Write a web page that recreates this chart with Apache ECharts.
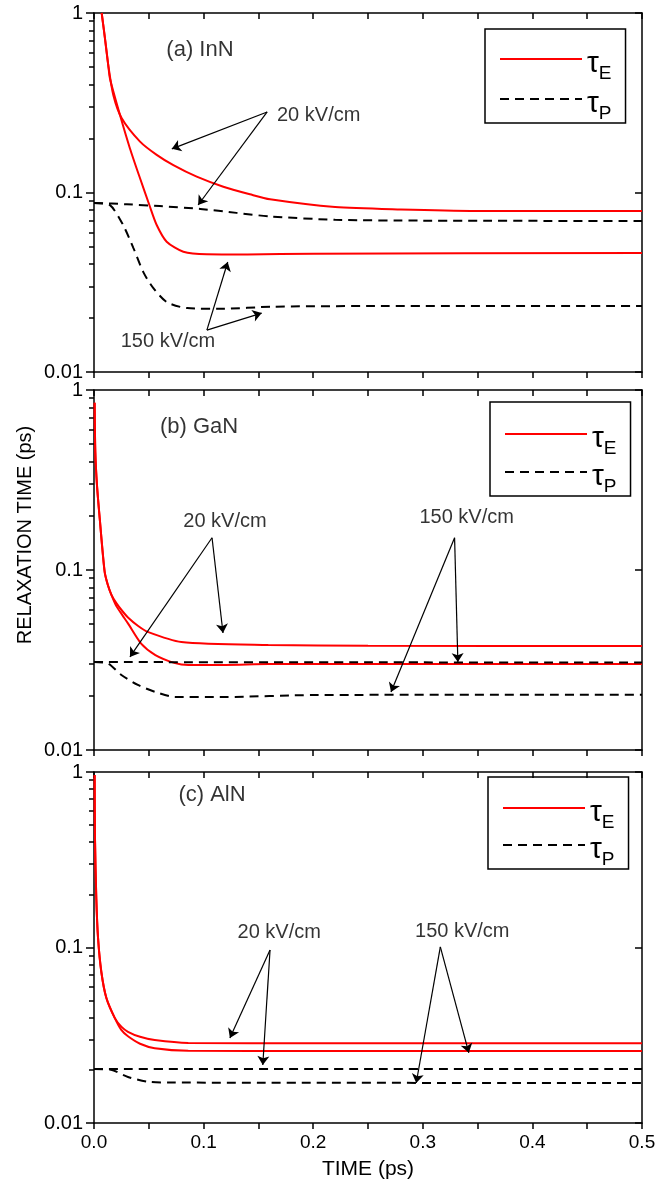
<!DOCTYPE html>
<html>
<head>
<meta charset="utf-8">
<script src="https://cdn.jsdelivr.net/npm/echarts@6/dist/echarts.min.js"></script>
<style>
html,body{margin:0;padding:0;background:#fff;}
#chart{width:669px;height:1182px;}
</style>
</head>
<body>
<div id="chart"></div>
<script>
// ---------------- DATA ----------------
const xTickValues = [0.0, 0.1, 0.2, 0.3, 0.4, 0.5];
const yMajorTicks = [0.01, 0.1, 1];
const yMinorTicks = [0.02,0.03,0.04,0.05,0.06,0.07,0.08,0.09,0.2,0.3,0.4,0.5,0.6,0.7,0.8,0.9];
const panelTitles = ['(a) InN', '(b) GaN', '(c) AlN'];
const legendNames = ['τE', 'τP'];
const xAxisTitle = 'TIME (ps)';
const yAxisTitle = 'RELAXATION TIME (ps)';

// (a) InN  [time (ps), relaxation time (ps)]
const inn_tauE_20 = [[0.007,1.0],[0.010,0.723],[0.013,0.513],[0.0176,0.349],[0.0253,0.259],[0.042,0.192],[0.0572,0.162],[0.0724,0.142],[0.0937,0.1225],[0.118,0.1077],[0.1423,0.0977],[0.1606,0.0916],[0.22,0.083],[0.28,0.0805],[0.35,0.079],[0.5,0.0788]];
const inn_tauE_150 = [[0.007,1.0],[0.010,0.723],[0.013,0.513],[0.0146,0.43],[0.0237,0.270],[0.0328,0.176],[0.042,0.120],[0.0505,0.0852],[0.0572,0.0659],[0.0663,0.0532],[0.0815,0.0468],[0.1028,0.0453],[0.14,0.0452],[0.2,0.0456],[0.5,0.046]];
const inn_tauP_20 = [[0.0,0.0875],[0.03,0.086],[0.06,0.084],[0.097,0.081],[0.13,0.077],[0.161,0.0735],[0.22,0.0705],[0.3,0.0697],[0.5,0.0694]];
const inn_tauP_150 = [[0.0,0.0875],[0.0146,0.085],[0.0265,0.066],[0.036,0.049],[0.045,0.036],[0.054,0.0294],[0.0665,0.0245],[0.085,0.0227],[0.118,0.0225],[0.161,0.0231],[0.25,0.0233],[0.5,0.0233]];

// (b) GaN
const gan_tauE_20 = [[0.0006,0.85],[0.0012,0.454],[0.0027,0.297],[0.0052,0.194],[0.0097,0.0978],[0.0125,0.083],[0.0158,0.073],[0.0204,0.0655],[0.026,0.059],[0.031,0.0545],[0.040,0.049],[0.049,0.0453],[0.0797,0.0398],[0.159,0.0383],[0.25,0.0379],[0.5,0.0378]];
const gan_tauE_150 = [[0.0006,0.85],[0.0012,0.454],[0.0027,0.297],[0.0052,0.194],[0.0097,0.0978],[0.0125,0.083],[0.0158,0.073],[0.0204,0.063],[0.026,0.056],[0.031,0.0505],[0.043,0.0390],[0.056,0.0337],[0.074,0.0304],[0.086,0.0297],[0.12,0.0297],[0.159,0.030],[0.5,0.030]];
const gan_tauP_20 = [[0.0,0.0308],[0.25,0.0307],[0.5,0.0306]];
const gan_tauP_150 = [[0.0,0.0308],[0.013,0.0302],[0.025,0.0261],[0.040,0.0230],[0.056,0.021],[0.074,0.0197],[0.12,0.0197],[0.2,0.0202],[0.5,0.0203]];

// (c) AlN
const aln_tauE_20 = [[0.0006,0.96],[0.0009,0.42],[0.0021,0.191],[0.0037,0.113],[0.0067,0.0725],[0.0113,0.0515],[0.0189,0.0397],[0.0249,0.0354],[0.031,0.0331],[0.042,0.031],[0.0554,0.0297],[0.086,0.0286],[0.2,0.0285],[0.5,0.0285]];
const aln_tauE_150 = [[0.0006,0.96],[0.0009,0.42],[0.0021,0.191],[0.0037,0.113],[0.0067,0.0725],[0.0113,0.0515],[0.0189,0.0397],[0.0249,0.0339],[0.031,0.0312],[0.042,0.0283],[0.0554,0.0267],[0.086,0.0258],[0.2,0.0257],[0.5,0.0257]];
const aln_tauP_20 = [[0.0,0.0203],[0.25,0.0203],[0.5,0.0203]];
const aln_tauP_150 = [[0.0,0.0203],[0.0155,0.0201],[0.031,0.0183],[0.049,0.0172],[0.07,0.0170],[0.5,0.0169]];

// annotation texts, anchored in data coordinates [time, value]
const fieldText20 = '20 kV/cm';
const fieldText150 = '150 kV/cm';
const inn_textAnchors = [[0.205,0.270],[0.0675,0.0147],[0.0967,0.622]];
const gan_textAnchors = [[0.1195,0.185],[0.340,0.197],[0.0958,0.623]];
const aln_textAnchors = [[0.169,0.121],[0.336,0.1226],[0.1077,0.74]];
// arrows: [from, to] in data coordinates
const inn_arrows = [[[0.158,0.281],[0.071,0.175]],[[0.158,0.281],[0.095,0.0852]],[[0.103,0.0171],[0.122,0.041]],[[0.103,0.0171],[0.153,0.0213]]];
const gan_arrows = [[[0.1077,0.151],[0.0328,0.0329]],[[0.1077,0.151],[0.1177,0.0447]],[[0.329,0.151],[0.271,0.0210]],[[0.329,0.151],[0.332,0.0308]]];
const aln_arrows = [[[0.1606,0.0968],[0.124,0.0305]],[[0.1606,0.0968],[0.154,0.0214]],[[0.316,0.1007],[0.294,0.0169]],[[0.316,0.1007],[0.342,0.0251]]];

// ---------------- LAYOUT / STYLE ----------------
const FONT = 'Liberation Sans, Arial, Helvetica, sans-serif';
const RED = '#f00';
const BLACK = '#000';
const grids = [
  {left: 94, right: 27, top: 13, height: 359},
  {left: 94, right: 27, top: 390, height: 360},
  {left: 94, right: 27, top: 772, height: 351}
];
const legendPos = [
  {left: 485, top: 29, gap: 1, padTop: 15},
  {left: 490, top: 402, gap: -1, padTop: 17},
  {left: 488, top: 777, gap: -2, padTop: 16}
];

const panels = [
  {e20: inn_tauE_20, e150: inn_tauE_150, p20: inn_tauP_20, p150: inn_tauP_150, anchors: inn_textAnchors, arrows: inn_arrows},
  {e20: gan_tauE_20, e150: gan_tauE_150, p20: gan_tauP_20, p150: gan_tauP_150, anchors: gan_textAnchors, arrows: gan_arrows},
  {e20: aln_tauE_20, e150: aln_tauE_150, p20: aln_tauP_20, p150: aln_tauP_150, anchors: aln_textAnchors, arrows: aln_arrows}
];

const axisLineStyle = {color: BLACK, width: 1.5};
const tickLine = {color: BLACK, width: 1.5};

const xAxis = [], yAxis = [], series = [], legend = [];

panels.forEach((p, i) => {
  const isLast = i === panels.length - 1;
  const xBase = {
    type: 'value', gridIndex: i, min: 0, max: 0.5, interval: 0.1,
    splitLine: {show: false},
    axisLine: {show: true, onZero: false, lineStyle: axisLineStyle}
  };
  xAxis.push(Object.assign({}, xBase, {
    position: 'bottom',
    axisTick: {show: true, inside: false, length: 6, lineStyle: tickLine},
    minorTick: {show: true, splitNumber: 2, length: 6, lineStyle: tickLine},
    axisLabel: isLast ? {show: true, margin: 10, fontSize: 19, color: BLACK, fontFamily: FONT,
      formatter: v => v.toFixed(1)} : {show: false},
    name: isLast ? xAxisTitle : '',
    nameLocation: 'middle', nameGap: 36,
    nameTextStyle: {fontSize: 21, color: BLACK, fontFamily: FONT}
  }));
  xAxis.push(Object.assign({}, xBase, {
    position: 'top',
    axisTick: {show: true, inside: true, length: 6, lineStyle: tickLine},
    minorTick: {show: true, splitNumber: 2, length: 6, lineStyle: tickLine},
    axisLabel: {show: false}
  }));

  const yBase = {type: 'log', logBase: 10, gridIndex: i, min: 0.01, max: 1, splitLine: {show: false}};
  yAxis.push(Object.assign({}, yBase, {
    position: 'left',
    axisLine: {show: true, onZero: false, lineStyle: axisLineStyle},
    axisTick: {show: true, inside: false, length: 8, lineStyle: tickLine, customValues: yMajorTicks},
    axisLabel: {show: true, margin: 11, fontSize: 20, color: BLACK, fontFamily: FONT,
      customValues: yMajorTicks, formatter: v => String(+v.toPrecision(3))}
  }));
  yAxis.push(Object.assign({}, yBase, {
    position: 'left',
    axisLine: {show: false},
    axisTick: {show: true, inside: false, length: 5, lineStyle: tickLine, customValues: yMinorTicks},
    axisLabel: {show: false}
  }));
  yAxis.push(Object.assign({}, yBase, {
    position: 'right',
    axisLine: {show: true, onZero: false, lineStyle: axisLineStyle},
    axisTick: {show: true, inside: true, length: 7, lineStyle: tickLine, customValues: yMajorTicks},
    axisLabel: {show: false}
  }));
  yAxis.push(Object.assign({}, yBase, {
    position: 'right',
    axisLine: {show: false},
    axisTick: {show: true, inside: true, length: 4, lineStyle: tickLine, customValues: yMinorTicks},
    axisLabel: {show: false}
  }));

  const common = {type: 'line', xAxisIndex: 2 * i, yAxisIndex: 4 * i, symbol: 'none', showSymbol: false,
    smooth: 0.25, animation: false, silent: true, z: 3};
  series.push(Object.assign({}, common, {name: legendNames[0], data: p.e20,
    lineStyle: {color: RED, width: 2}, itemStyle: {color: RED}}));
  series.push(Object.assign({}, common, {name: legendNames[0], data: p.e150,
    lineStyle: {color: RED, width: 2}, itemStyle: {color: RED}}));
  series.push(Object.assign({}, common, {name: legendNames[1], data: p.p20,
    lineStyle: {color: BLACK, width: 2, type: [9, 6]}, itemStyle: {color: BLACK}}));
  series.push(Object.assign({}, common, {name: legendNames[1], data: p.p150,
    lineStyle: {color: BLACK, width: 2, type: [9, 6]}, itemStyle: {color: BLACK}}));

  const texts = [fieldText20, fieldText150, panelTitles[i]];
  series.push({
    type: 'scatter', xAxisIndex: 2 * i, yAxisIndex: 4 * i, silent: true, animation: false,
    symbolSize: 1, itemStyle: {color: 'rgba(0,0,0,0)'}, z: 5,
    data: p.anchors.map((a, k) => ({value: a, name: texts[k],
      label: {fontSize: k === 2 ? 22 : 20}})),
    label: {show: true, position: 'inside', formatter: '{b}', color: BLACK, fontFamily: FONT, fontSize: 20},
    markLine: {
      silent: true, animation: false, symbol: ['none', 'arrow'], symbolSize: 9,
      label: {show: false},
      lineStyle: {color: BLACK, width: 1.2, type: 'solid'},
      emphasis: {disabled: true},
      data: p.arrows.map(a => [{coord: a[0]}, {coord: a[1]}])
    }
  });

  const lp = legendPos[i];
  legend.push({
    data: legendNames, orient: 'vertical', left: lp.left, top: lp.top,
    itemWidth: 82, itemHeight: 14, itemGap: lp.gap,
    padding: [lp.padTop, 14, 0, 14],
    borderColor: BLACK, borderWidth: 1.5, borderRadius: 0,
    selectedMode: false,
    itemStyle: {color: 'rgba(0,0,0,0)', borderColor: 'rgba(0,0,0,0)', borderWidth: 0},
    textStyle: {
      color: BLACK, fontFamily: FONT,
      rich: {
        t: {fontSize: 30, lineHeight: 30, padding: [5, 0, 0, 0], verticalAlign: 'top', fontFamily: FONT, color: BLACK},
        s: {fontSize: 19, lineHeight: 19, padding: [20, 0, 0, 0], verticalAlign: 'top', fontFamily: FONT, color: BLACK}
      }
    },
    formatter: name => name === 'τE' ? '{t|τ}{s|E}' : '{t|τ}{s|P}'
  });
});

const option = {
  backgroundColor: '#fff',
  animation: false,
  grid: grids.map(g => Object.assign({containLabel: false}, g)),
  xAxis, yAxis, series, legend,
  graphic: [{
    type: 'text', x: 25, y: 535, rotation: Math.PI / 2,
    style: {text: yAxisTitle, fontSize: 20, fontFamily: FONT, fill: BLACK, align: 'center', verticalAlign: 'middle'}
  }]
};

const chart = echarts.init(document.getElementById('chart'), null, {renderer: 'canvas'});
chart.setOption(option);
</script>
</body>
</html>
